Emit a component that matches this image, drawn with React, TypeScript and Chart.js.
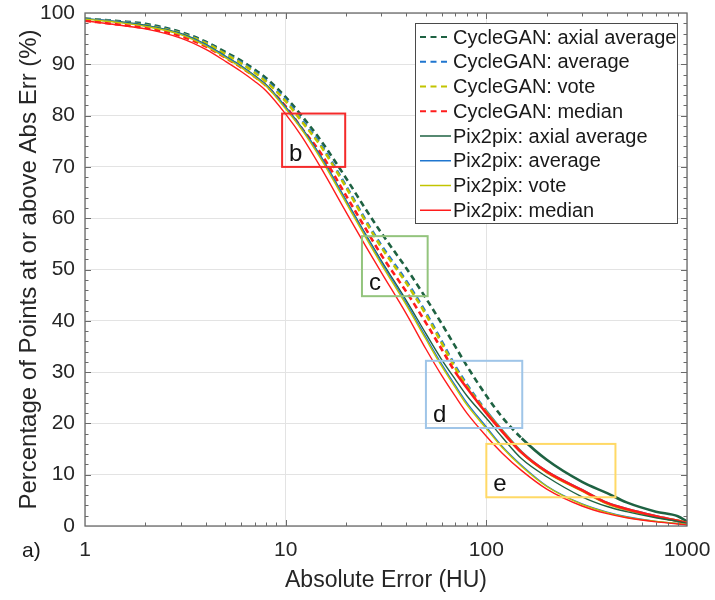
import React, { useEffect, useRef } from 'react';
import { Chart, registerables } from 'chart.js';

Chart.register(...registerables);

const FONT = '"Liberation Sans", Arial, Helvetica, sans-serif';

// ---------- data ----------
const xValues = [1, 1.5, 2, 3, 4, 5, 6, 7, 8, 10, 12, 15, 20, 25, 30, 40, 50, 60, 70, 80, 100, 120, 150, 200, 300, 400, 500, 700, 900, 1000];

const cycleganAxialAverage = [98.9, 98.4, 97.9, 96.3, 94.4, 92.4, 90.7, 89.0, 87.3, 83.6, 80.0, 75.1, 67.8, 61.8, 57.1, 50.2, 44.4, 39.4, 35.0, 31.2, 25.4, 21.2, 17.1, 12.9, 8.6, 6.4, 4.6, 2.8, 1.9, 0.9];
const cycleganAverage = [98.8, 98.3, 97.7, 96.1, 94.2, 92.1, 90.4, 88.6, 86.8, 83.1, 79.2, 74.3, 66.3, 59.7, 54.7, 47.7, 41.6, 36.0, 31.2, 27.6, 22.4, 18.6, 14.4, 10.6, 7.0, 4.5, 3.3, 1.9, 1.0, 0.6];
const cycleganVote = [98.8, 98.2, 97.6, 96.0, 94.1, 92.0, 90.2, 88.4, 86.6, 82.8, 78.9, 74.0, 66.0, 59.4, 54.3, 47.3, 41.2, 35.6, 30.8, 27.3, 22.2, 18.5, 14.3, 10.5, 6.9, 4.4, 3.2, 1.8, 1.0, 0.6];
const cycleganMedian = [98.5, 97.7, 97.1, 95.5, 93.5, 91.3, 89.4, 87.6, 85.8, 81.8, 77.6, 72.6, 64.4, 58.0, 52.8, 45.6, 39.6, 34.4, 30.0, 26.9, 22.0, 18.4, 14.3, 10.6, 7.0, 4.5, 3.3, 1.9, 1.0, 0.6];
const pix2pixAxialAverage = [98.9, 98.3, 97.6, 96.0, 93.9, 91.6, 89.7, 87.8, 86.0, 81.7, 77.7, 72.0, 63.5, 56.9, 51.7, 43.9, 37.5, 32.4, 28.6, 25.4, 21.0, 17.3, 13.1, 9.6, 5.7, 3.8, 2.8, 1.6, 0.9, 0.5];
const pix2pixAverage = [98.9, 98.2, 97.5, 95.9, 93.8, 91.5, 89.6, 87.7, 85.9, 81.6, 77.6, 71.9, 63.4, 56.7, 51.4, 43.4, 36.8, 31.5, 27.4, 24.0, 19.3, 15.5, 11.8, 7.8, 4.3, 2.7, 1.8, 0.9, 0.5, 0.3];
const pix2pixVote = [98.8, 98.1, 97.4, 95.8, 93.6, 91.3, 89.4, 87.5, 85.7, 81.3, 77.3, 71.5, 63.0, 56.3, 51.0, 43.0, 36.4, 31.1, 27.0, 23.6, 19.0, 15.3, 11.6, 7.7, 4.2, 2.6, 1.7, 0.9, 0.5, 0.3];
const pix2pixMedian = [98.5, 97.6, 96.9, 95.1, 92.9, 90.6, 88.6, 86.7, 84.8, 80.3, 76.0, 69.8, 61.2, 54.6, 49.4, 41.3, 34.5, 29.3, 25.3, 22.0, 17.5, 14.2, 10.8, 7.2, 3.9, 2.4, 1.6, 0.8, 0.4, 0.2];

const seriesLabels = [
  'CycleGAN: axial average',
  'CycleGAN: average',
  'CycleGAN: vote',
  'CycleGAN: median',
  'Pix2pix: axial average',
  'Pix2pix: average',
  'Pix2pix: vote',
  'Pix2pix: median',
];
const seriesData = [
  cycleganAxialAverage, cycleganAverage, cycleganVote, cycleganMedian,
  pix2pixAxialAverage, pix2pixAverage, pix2pixVote, pix2pixMedian,
];

const xTickValues = [1, 10, 100, 1000];
const yMin = 0;
const yMax = 100;
const yStep = 10;

const boxLabels = ['b', 'c', 'd', 'e'];
const boxXFrom = [9.6, 24, 50, 100];
const boxXTo = [19.8, 51, 151, 440];
const boxYFrom = [70, 44.8, 19.1, 5.6];
const boxYTo = [80.4, 56.5, 32.2, 16];

// ---------- styles ----------
const DG = '#1e6242';
const BL = '#1f76cf';
const YL = '#c2c400';
const RD = '#ff1c1c';
const seriesColors = [DG, BL, YL, RD, DG, BL, YL, RD];
const seriesDashed = [true, true, true, true, false, false, false, false];
const dashEnd = [150, 90, 90, 70, 0, 0, 0, 0];
const boxColors = ['#f42a2a', '#93c47d', '#9fc5e8', '#ffd966'];

const zeroPad = (s: any) => {
  s.paddingTop = 0;
  s.paddingBottom = 0;
  s.paddingLeft = 0;
  s.paddingRight = 0;
};

const decorPlugin = {
  id: 'decor',
  afterDatasetsDraw(chart: any) {
    const { ctx, chartArea: a, scales } = chart;
    const xs = scales.x;
    const ys = scales.y;
    ctx.save();
    // annotation boxes
    boxLabels.forEach((lab, i) => {
      const x0 = xs.getPixelForValue(boxXFrom[i]);
      const x1 = xs.getPixelForValue(boxXTo[i]);
      const y0 = ys.getPixelForValue(boxYTo[i]);
      const y1 = ys.getPixelForValue(boxYFrom[i]);
      ctx.strokeStyle = boxColors[i];
      ctx.lineWidth = 2;
      ctx.setLineDash([]);
      ctx.strokeRect(x0, y0, x1 - x0, y1 - y0);
      ctx.fillStyle = '#111';
      ctx.font = `24px ${FONT}`;
      ctx.textAlign = 'left';
      ctx.textBaseline = 'alphabetic';
      ctx.fillText(lab, x0 + 7, y1 - 6);
    });
    // inward tick marks
    ctx.strokeStyle = '#6a6a6a';
    ctx.lineWidth = 1;
    ctx.beginPath();
    for (let v = yMin + 2; v < yMax; v += 2) {
      const y = Math.round(ys.getPixelForValue(v)) + 0.5;
      const len = v % 10 === 0 ? 6 : 3.5;
      ctx.moveTo(a.left, y); ctx.lineTo(a.left + len, y);
      ctx.moveTo(a.right, y); ctx.lineTo(a.right - len, y);
    }
    for (let d = 1; d < 1000; d *= 10) {
      for (let m = 1; m < 10; m++) {
        const v = d * m;
        if (v <= 1 || v >= 1000) continue;
        const x = Math.round(xs.getPixelForValue(v)) + 0.5;
        const len = m === 1 ? 6 : 3.5;
        ctx.moveTo(x, a.bottom); ctx.lineTo(x, a.bottom - len);
        ctx.moveTo(x, a.top); ctx.lineTo(x, a.top + len);
      }
    }
    ctx.stroke();
    // frame
    ctx.strokeStyle = '#6a6a6a';
    ctx.lineWidth = 1.3;
    ctx.strokeRect(a.left, a.top, a.right - a.left, a.bottom - a.top);
    ctx.restore();
  },
  afterDraw(chart: any) {
    const { ctx, chartArea: a } = chart;
    ctx.save();
    // legend
    const lw = 262;
    const lh = 200;
    const lx = a.right - 272;
    const ly = a.top + 10;
    ctx.fillStyle = '#ffffff';
    ctx.fillRect(lx, ly, lw, lh);
    ctx.strokeStyle = '#4a4a4a';
    ctx.lineWidth = 1;
    ctx.strokeRect(lx + 0.5, ly + 0.5, lw, lh);
    seriesLabels.forEach((lab, i) => {
      const y = ly + 14 + i * 24.75;
      ctx.strokeStyle = seriesColors[i];
      ctx.lineWidth = seriesDashed[i] ? 2.2 : 1.5;
      ctx.setLineDash(seriesDashed[i] ? [6, 4.5] : []);
      ctx.beginPath();
      ctx.moveTo(lx + 5, y);
      ctx.lineTo(lx + 36, y);
      ctx.stroke();
      ctx.setLineDash([]);
      ctx.fillStyle = '#1a1a1a';
      ctx.font = `20px ${FONT}`;
      ctx.textAlign = 'left';
      ctx.textBaseline = 'middle';
      ctx.fillText(lab, lx + 38, y + 1);
    });
    // panel label
    ctx.fillStyle = '#1a1a1a';
    ctx.font = `21px ${FONT}`;
    ctx.textAlign = 'left';
    ctx.textBaseline = 'middle';
    ctx.fillText('a)', 22, 551);
    ctx.restore();
  },
};

export default function App() {
  const canvasRef = useRef<HTMLCanvasElement | null>(null);

  useEffect(() => {
    const canvas = canvasRef.current;
    if (!canvas) return;
    const datasets = seriesData.map((vals, i) => {
      const ds: any = {
        label: seriesLabels[i],
        data: xValues.map((x, j) => ({ x, y: vals[j] })),
        borderColor: seriesColors[i],
        backgroundColor: seriesColors[i],
        borderWidth: seriesDashed[i] ? 2.6 : 1.4,
        pointRadius: 0,
        pointHoverRadius: 0,
        fill: false,
        cubicInterpolationMode: 'monotone',
        order: seriesData.length - i,
      };
      if (seriesDashed[i]) {
        ds.segment = {
          borderDash: (c: any) => (c.p0.parsed.x >= dashEnd[i] ? [] : [6, 4]),
        };
      }
      return ds;
    });

    const chart = new Chart(canvas, {
      type: 'line',
      data: { datasets },
      options: {
        responsive: false,
        animation: false,
        events: [],
        layout: { padding: { top: 13, right: 28, left: 0, bottom: 0 } },
        plugins: {
          legend: { display: false },
          tooltip: { enabled: false },
        },
        scales: {
          x: {
            type: 'logarithmic',
            min: 1,
            max: 1000,
            afterBuildTicks: (s: any) => {
              s.ticks = xTickValues.map((v) => ({ value: v }));
            },
            afterFit: (s: any) => {
              s.height = 74;
              zeroPad(s);
            },
            ticks: {
              autoSkip: false,
              maxRotation: 0,
              padding: 12,
              color: '#262626',
              font: { size: 21, family: FONT },
              callback: (v: any) => String(v),
            },
            grid: { color: '#e3e3e3', lineWidth: 1, drawTicks: false },
            border: { display: false },
            title: {
              display: true,
              text: 'Absolute Error (HU)',
              color: '#262626',
              font: { size: 23, family: FONT },
              padding: { top: 0, bottom: 6 },
            },
          },
          y: {
            min: yMin,
            max: yMax,
            afterFit: (s: any) => {
              s.width = 85;
              zeroPad(s);
            },
            ticks: {
              stepSize: yStep,
              padding: 10,
              color: '#262626',
              font: { size: 21, family: FONT },
            },
            grid: { color: '#e3e3e3', lineWidth: 1, drawTicks: false },
            border: { display: false },
            title: {
              display: true,
              text: 'Percentage of Points at or above Abs Err (%)',
              color: '#262626',
              font: { size: 24, family: FONT },
              padding: { top: 15, bottom: 0 },
            },
          },
        },
      } as any,
      plugins: [decorPlugin],
    });
    return () => chart.destroy();
  }, []);

  return (
    <div style={{ position: 'absolute', left: 0, top: 0, width: 715, height: 600, background: '#fff' }}>
      <canvas ref={canvasRef} width={715} height={600} style={{ display: 'block' }} />
    </div>
  );
}
